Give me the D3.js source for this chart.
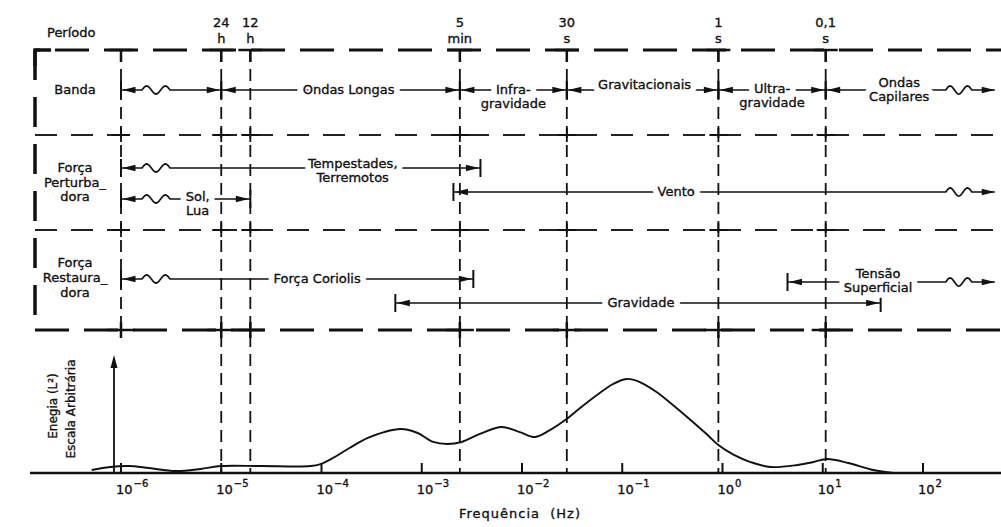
<!DOCTYPE html>
<html>
<head>
<meta charset="utf-8">
<script src="https://cdn.jsdelivr.net/npm/d3@7"></script>
<style>
  body { margin: 0; background: #fff; }
  text { font-family: "DejaVu Sans", "Liberation Sans", sans-serif; fill: #111; }
  text.ink { stroke: #111; stroke-width: 0.35; }
</style>
</head>
<body>
<svg id="chart" width="1001" height="527"></svg>
<script>
// ---- data ----
const decadeExponents = [-6, -5, -4, -3, -2, -1, 0, 1, 2];

// period marks at the top, and the frequency (Hz) where each dashed line sits on the axis
const periodTop  = ["24", "12", "5", "30", "1", "0,1"];
const periodUnit = ["h", "h", "min", "s", "s", "s"];
const periodFreq = [1.0e-5, 1.95e-5, 2.4e-3, 2.8e-2, 0.91, 10.7];
const edgeFreq = 1e-6;

const rowLabels = [["Banda"], ["Força", "Perturba_", "dora"], ["Força", "Restaura_", "dora"]];

// ranges drawn as arrows (Hz)
const spanText = [[], ["Ondas Longas"], ["Infra-", "gravidade"], ["Gravitacionais"], ["Ultra-", "gravidade"],
                  ["Ondas", "Capilares"], ["Tempestades,", "Terremotos"], ["Sol,", "Lua"], ["Vento"],
                  ["Força Coriolis"], ["Tensão", "Superficial"], ["Gravidade"]];
const spanFrom = [1e-6, 1.0e-5, 2.4e-3, 2.8e-2, 0.91, 10.7, 1e-6, 1e-6, 2.07e-3, 1e-6, 4.45, 5.45e-4];
const spanTo   = [1.0e-5, 2.4e-3, 2.8e-2, 0.91, 10.7, 520, 3.85e-3, 1.95e-5, 520, 3.27e-3, 520, 37.8];
const spanEnds = [["wave", "arrow"], ["arrow", "arrow"], ["arrow", "arrow"], ["arrow", "arrow"], ["arrow", "arrow"],
                  ["arrow", "free"], ["wave", "arrow"], ["wave", "arrow"], ["arrow", "free"],
                  ["wave", "arrow"], ["arrow", "free"], ["arrow", "arrow"]];
const spanLane = ["band", "band", "band", "band", "band", "band", "storm", "sun", "wind", "coriolis", "tension", "gravity"];

// energy spectrum (arbitrary scale 0-100)
const energyFreq  = [5.1e-7, 7.8e-7, 1.2e-6, 1.9e-6, 3.5e-6, 6.2e-6, 1.0e-5, 2.5e-5, 7.8e-5, 9.8e-5,
                     1.3e-4, 1.9e-4, 2.9e-4, 4.2e-4, 6.2e-4, 9.1e-4, 1.3e-3, 1.8e-3, 2.5e-3, 3.8e-3,
                     6.3e-3, 9.5e-3, 1.35e-2, 1.9e-2, 2.7e-2, 3.8e-2, 5.6e-2, 8.1e-2, 0.11, 0.15,
                     0.22, 0.32, 0.48, 0.71, 0.91, 1.3, 1.9, 3.0, 5.6, 8.1, 11, 18, 32, 51];
const energyValue = [2.5, 5.1, 5.9, 4.2, 1.7, 3.4, 5.9, 5.9, 5.9, 7.6,
                     12.7, 21.2, 29.7, 34.7, 37.3, 33.9, 26.3, 24.6, 26.3, 33.1,
                     39.0, 34.7, 30.5, 36.4, 44.9, 55.1, 66.1, 75.4, 79.7, 77.1,
                     68.6, 57.6, 44.9, 32.2, 23.7, 15.3, 9.3, 5.1, 6.8, 9.3, 11.9, 8.5, 2.5, 0];

// ---- layout ----
const laneY = { band: 90, storm: 168, wind: 192, sun: 199, coriolis: 279, tension: 282, gravity: 303 };
const labelDx = [0, 8, 0, 2, 0, -11, 52, 12, -48, 20, -13, 3];
const labelDy = [0, 4, 4, -1, 3, -3, 0, 2, 4, 4, -4, 4];
const boxTop = 50, boxBottom = 330, boxLeft = 35, rowSep = [135, 230];
const axisY = 473;

const svg = d3.select("#chart");
const x = d3.scaleLog().domain([1e-6, 1e2]).range([121, 923]);
const y = d3.scaleLinear().domain([0, 100]).range([axisY, 355]);

// ---- dashed frame ----
svg.append("line").attr("x1", boxLeft).attr("x2", 1001).attr("y1", boxTop).attr("y2", boxTop)
  .attr("stroke", "#111").attr("stroke-width", 3).attr("stroke-dasharray", "34,15").attr("stroke-dashoffset", -20);
svg.append("path").attr("d", `M${boxLeft},${boxTop + 16}V${boxTop}H${boxLeft + 16}`)
  .attr("fill", "none").attr("stroke", "#111").attr("stroke-width", 3.5);
svg.append("line").attr("x1", boxLeft).attr("x2", boxLeft).attr("y1", boxTop).attr("y2", boxBottom)
  .attr("stroke", "#111").attr("stroke-width", 3.5).attr("stroke-dasharray", "30,17");
svg.append("line").attr("x1", boxLeft).attr("x2", 1001).attr("y1", boxBottom).attr("y2", boxBottom)
  .attr("stroke", "#111").attr("stroke-width", 3).attr("stroke-dasharray", "34,15");
rowSep.forEach(yy => {
  svg.append("line").attr("x1", boxLeft).attr("x2", 1001).attr("y1", yy).attr("y2", yy)
    .attr("stroke", "#222").attr("stroke-width", 1.8).attr("stroke-dasharray", "22,14");
});

// ---- vertical dashed lines ----
const vlines = [{ f: edgeFreq, bottom: boxBottom }].concat(periodFreq.map(f => ({ f: f, bottom: axisY })));
svg.selectAll(".vline").data(vlines).join("line").attr("class", "vline")
  .attr("x1", d => x(d.f)).attr("x2", d => x(d.f))
  .attr("y1", boxTop).attr("y2", d => d.bottom)
  .attr("stroke", "#111").attr("stroke-width", 1.8).attr("stroke-dasharray", "12,7");

// little solid crosses where the lines meet the frame
vlines.forEach(d => {
  const cx = x(d.f);
  svg.append("path").attr("d", `M${cx - 12},${boxTop}H${cx + 12}M${cx},${boxTop}V${boxTop + 12}`)
    .attr("stroke", "#111").attr("stroke-width", 2.5).attr("fill", "none");
  rowSep.forEach(yy => {
    svg.append("path").attr("d", `M${cx - 9},${yy}H${cx + 9}M${cx},${yy - 7}V${yy + 7}`)
      .attr("stroke", "#111").attr("stroke-width", 1.8).attr("fill", "none");
  });
  svg.append("path").attr("d", `M${cx - 14},${boxBottom}H${cx + 14}M${cx},${boxBottom - 8}V${boxBottom + 8}`)
    .attr("stroke", "#111").attr("stroke-width", 2.5).attr("fill", "none");
});

// ---- period labels ----
svg.append("text").attr("class", "ink").attr("x", 47).attr("y", 37).attr("font-size", 13).text("Período");
periodFreq.forEach((f, i) => {
  svg.append("text").attr("class", "ink").attr("x", x(f)).attr("y", 27).attr("text-anchor", "middle")
    .attr("font-size", 13).text(periodTop[i]);
  svg.append("text").attr("class", "ink").attr("x", x(f)).attr("y", 43).attr("text-anchor", "middle")
    .attr("font-size", 13).text(periodUnit[i]);
});

// ---- row labels ----
const rowLabelY = [[94], [172, 187, 201], [267, 282, 297]];
rowLabels.forEach((lines, r) => {
  lines.forEach((t, k) => {
    svg.append("text").attr("class", "ink").attr("x", 75).attr("y", rowLabelY[r][k]).attr("text-anchor", "middle")
      .attr("font-size", 13).text(t);
  });
});

// ---- range arrows ----
function addSquiggle(pts, a, b, yy) {
  pts.push([a, yy]);
  for (let i = 0; i <= 24; i++) {
    const t = i / 24;
    pts.push([a + t * (b - a), yy - 4 * Math.sin(t * Math.PI * 3)]);
  }
}
function arrowHead(tip, yy, dir) {
  // dir = -1 points left, +1 points right
  const b = tip - dir * 13;
  return `M${tip},${yy}L${b},${yy - 3.2}L${b},${yy + 3.2}Z`;
}
const gSpans = svg.append("g");
const gHalo = svg.append("g");
const gLabel = svg.append("g");
spanText.forEach((lines, i) => {
  const yy = laneY[spanLane[i]];
  const x1 = x(spanFrom[i]), x2 = x(spanTo[i]);
  const ends = spanEnds[i];
  const pts = [[x1, yy]];
  if (ends[0] === "wave") addSquiggle(pts, x1 + 21, x1 + 49, yy);
  if (ends[1] === "free") addSquiggle(pts, x2 - 49, x2 - 23, yy);
  pts.push([x2, yy]);
  gSpans.append("path").attr("d", d3.line()(pts)).attr("fill", "none")
    .attr("stroke", "#111").attr("stroke-width", 1.7);
  gSpans.append("path").attr("d", arrowHead(x1 + 1.5, yy, -1)).attr("fill", "#111");
  gSpans.append("path").attr("d", arrowHead(x2 - (ends[1] === "free" ? 0 : 1.5), yy, 1)).attr("fill", "#111");
  if (ends[0] !== "free") gSpans.append("line").attr("x1", x1).attr("x2", x1).attr("y1", yy - 9).attr("y2", yy + 9)
    .attr("stroke", "#111").attr("stroke-width", 2);
  if (ends[1] !== "free") gSpans.append("line").attr("x1", x2).attr("x2", x2).attr("y1", yy - 9).attr("y2", yy + 9)
    .attr("stroke", "#111").attr("stroke-width", 2);

  if (lines.length) {
    const cx = (x1 + x2) / 2 + labelDx[i];
    lines.forEach((t, k) => {
      const ty = yy + labelDy[i] + k * 14;
      gHalo.append("text").attr("x", cx).attr("y", ty)
        .attr("text-anchor", "middle").attr("font-size", 13)
        .attr("stroke", "#fff").attr("stroke-width", 12).attr("stroke-linejoin", "round").text(t);
      gLabel.append("text").attr("class", "ink").attr("x", cx).attr("y", ty)
        .attr("text-anchor", "middle").attr("font-size", 13).text(t);
    });
  }
});

// ---- spectrum axis ----
svg.append("line").attr("x1", 30).attr("x2", 1001).attr("y1", axisY).attr("y2", axisY)
  .attr("stroke", "#111").attr("stroke-width", 2.5);
svg.selectAll(".tick").data(decadeExponents).join("line").attr("class", "tick")
  .attr("x1", d => x(Math.pow(10, d))).attr("x2", d => x(Math.pow(10, d)))
  .attr("y1", axisY - 10).attr("y2", axisY).attr("stroke", "#111").attr("stroke-width", 2);
decadeExponents.forEach(e => {
  const t = svg.append("text").attr("class", "ink").attr("x", x(Math.pow(10, e)) - 5).attr("y", 494).attr("font-size", 13);
  t.append("tspan").text("10");
  t.append("tspan").attr("dx", 1).attr("dy", -7).attr("font-size", 10).text(e === 0 ? "0" : (e < 0 ? "−" + (-e) : String(e)));
});
svg.append("text").attr("class", "ink").attr("x", 520).attr("y", 518).attr("text-anchor", "middle").attr("font-size", 13)
  .attr("letter-spacing", 1).attr("xml:space", "preserve").text("Frequência  (Hz)");

// y arrow
svg.append("line").attr("x1", 114).attr("x2", 114).attr("y1", axisY).attr("y2", 362)
  .attr("stroke", "#111").attr("stroke-width", 1.8);
svg.append("path").attr("d", "M114,355L110.5,368L117.5,368Z").attr("fill", "#111");
svg.append("text").attr("class", "ink").attr("transform", "translate(57,406) rotate(-90)").attr("text-anchor", "middle")
  .attr("font-size", 12).text("Enegia (L²)");
svg.append("text").attr("class", "ink").attr("transform", "translate(75,409) rotate(-90)").attr("text-anchor", "middle")
  .attr("font-size", 12).text("Escala Arbitrária");

// energy curve
const curveData = energyFreq.map((f, i) => ({ f: f, e: energyValue[i] }));
svg.append("path").datum(curveData)
  .attr("fill", "none").attr("stroke", "#111").attr("stroke-width", 1.9)
  .attr("d", d3.line().x(d => x(d.f)).y(d => y(d.e)).curve(d3.curveCatmullRom));
</script>
</body>
</html>
